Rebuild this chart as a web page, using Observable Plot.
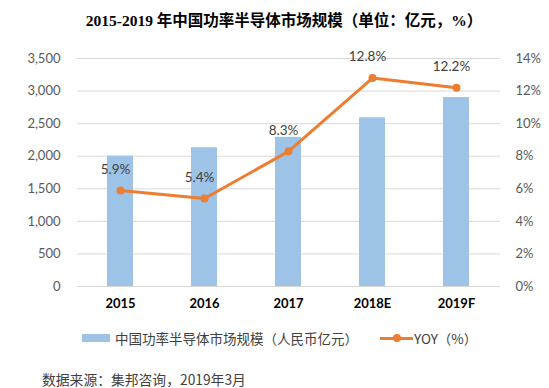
<!DOCTYPE html>
<html>
<head>
<meta charset="utf-8">
<script src="https://cdn.jsdelivr.net/npm/d3@7"></script>
<script src="https://cdn.jsdelivr.net/npm/@observablehq/plot@0.6"></script>
<style>
  html, body { margin: 0; padding: 0; background: #fff; }
  #wrap { position: relative; width: 549px; height: 388px; overflow: hidden; }
  #title { position: absolute; left: 0; width: 568px; top: 8px; text-align: center;
    font-family: "Liberation Serif", "Noto Sans CJK SC", serif; font-weight: bold; font-size: 15.5px; color: #000; }
  #chart { position: absolute; left: 0; top: 0; }
  #legend { position: absolute; left: 82px; top: 328px; font-family: "Noto Sans CJK SC", sans-serif; font-size: 13.5px; color: #404040; display: flex; align-items: center; }
  .sw-bar { display: inline-block; width: 28px; height: 8px; background: #9DC3E6; margin-right: 5px; }
  .sw-line { display: inline-block; position: relative; width: 33px; height: 3px; background: #ED7D31; margin-left: 22px; margin-right: 1px; }
  .sw-line::after { content: ""; position: absolute; left: 13px; top: -2.5px; width: 8px; height: 8px; border-radius: 50%; background: #ED7D31; }
  #caption { position: absolute; left: 42px; top: 372px; line-height: 14px; font-family: "Noto Sans CJK SC", sans-serif; font-size: 13.8px; color: #404040; }
</style>
</head>
<body>
<div id="wrap">
  <div id="chart"></div>
  <div id="title">2015-2019 年中国功率半导体市场规模（单位：亿元，%）</div>
  <div id="legend"><span class="sw-bar"></span>中国功率半导体市场规模（人民币亿元）<span class="sw-line"></span>YOY（%）</div>
  <div id="caption">数据来源：集邦咨询，2019年3月</div>
</div>
<script>
const years = ["2015", "2016", "2017", "2018E", "2019F"];
const marketSize = [2000, 2130, 2290, 2590, 2900];
const yoy = [5.9, 5.4, 8.3, 12.8, 12.2];
const leftTicks = [0, 500, 1000, 1500, 2000, 2500, 3000, 3500];
const rightTicks = [0, 2, 4, 6, 8, 10, 12, 14];

const yMax = 3500, pMax = 14;
const k = yMax / pMax;

const bars = years.map((y, i) => ({year: y, value: marketSize[i]}));
const line = years.map((y, i) => ({year: y, pct: yoy[i], scaled: yoy[i] * k}));

const numFont = "Lato, 'Liberation Sans', sans-serif";

const chart = Plot.plot({
  width: 549,
  height: 320,
  marginTop: 58,
  marginBottom: 34,
  marginLeft: 77,
  marginRight: 49,
  style: {fontFamily: numFont, fontSize: "13px", color: "#595959", background: "transparent"},
  x: {domain: years, paddingInner: 0.69, paddingOuter: 0.345},
  y: {domain: [0, yMax]},
  marks: [
    Plot.gridY(leftTicks, {stroke: "#D9D9D9", strokeOpacity: 1, strokeWidth: 1}),
    Plot.barY(bars, {x: "year", y: "value", fill: "#9DC3E6"}),
    Plot.line(line, {x: "year", y: "scaled", stroke: "#ED7D31", strokeWidth: 3}),
    Plot.dot(line, {x: "year", y: "scaled", fill: "#ED7D31", r: 4}),
    Plot.text(line, {x: "year", y: "scaled", text: d => d.pct.toFixed(1) + "%", dy: -21, dx: -5, fill: "#404040", fontSize: 13.5, fontFamily: numFont}),
    Plot.axisY(leftTicks, {anchor: "left", tickSize: 0, tickPadding: 17, tickFormat: d3.format(","), fill: "#595959", fontSize: 13, label: null}),
    Plot.axisY(rightTicks.map(v => v * k), {anchor: "right", tickSize: 0, tickPadding: 15, tickFormat: v => Math.round(v / k) + "%", fill: "#595959", fontSize: 13, textAnchor: "start", label: null}),
    Plot.axisX({tickSize: 0, tickPadding: 12, fontWeight: "bold", fill: "#000", fontSize: 13, label: null})
  ]
});
document.getElementById("chart").appendChild(chart);
</script>
</body>
</html>
